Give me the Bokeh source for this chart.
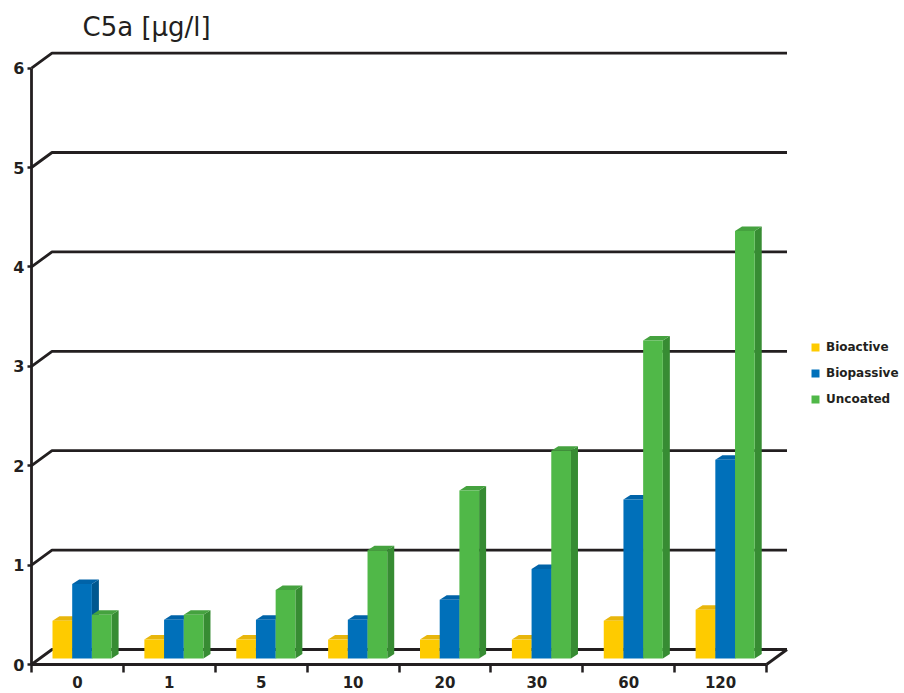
from bokeh.plotting import figure
from bokeh.models import Range1d, FixedTicker, Label, Legend, LegendItem
from bokeh.embed import file_html
from bokeh.resources import INLINE

# C5a concentration over time for three surface types
categories = ["0", "1", "5", "10", "20", "30", "60", "120"]
bioactive = [0.38, 0.19, 0.19, 0.19, 0.19, 0.19, 0.38, 0.49]
biopassive = [0.75, 0.39, 0.39, 0.39, 0.59, 0.90, 1.60, 2.00]
uncoated = [0.44, 0.44, 0.69, 1.09, 1.69, 2.09, 3.20, 4.30]
series_names = ["Bioactive", "Biopassive", "Uncoated"]
y_ticks = [0, 1, 2, 3, 4, 5, 6]

INK = "#231f20"
FONT = "DejaVu Sans"
# front / top / side shades for each series
shades = [
    ("#fecb00", "#e8b60c", "#d9a800"),
    ("#0070ba", "#0063a8", "#00578f"),
    ("#50b848", "#45a23f", "#378c33"),
]

W, H = 904, 693
X0, Y0 = 31, 664   # canvas position of the origin
XS = 91.875        # pixels per category
YS = 99.4          # pixels per unit of value

p = figure(width=W, height=H, output_backend="svg", toolbar_location=None,
           x_range=Range1d(-X0 / XS, (W - X0) / XS),
           y_range=Range1d(-(H - Y0) / YS, Y0 / YS),
           min_border=0)
p.outline_line_color = None
p.grid.visible = False
p.background_fill_color = "white"

# depth offset of the back wall
DX = 20.5 / XS
DY = 15 / YS

# back wall grid lines with the diagonal joins to the front axis
gx, gy = [], []
for v in y_ticks:
    gx.append([0, DX, len(categories) + DX])
    gy.append([v, v + DY, v + DY])
gx.append([len(categories), len(categories) + DX])
gy.append([0, DY])
p.multi_line(gx, gy, line_color=INK, line_width=2.8)

# pseudo-3D bars
OFF = 21 / XS
BW = 19.7 / XS
B0 = 6 / YS
DDX = 7 / XS
DDY = 4.5 / YS

fronts = []
for j, vals in enumerate([bioactive, biopassive, uncoated]):
    front_c, top_c, side_c = shades[j]
    left = [i + OFF + j * BW for i in range(len(categories))]
    right = [l + BW for l in left]
    bottom = [B0] * len(vals)
    top = [B0 + v for v in vals]
    side_x = [[r, r + DDX, r + DDX, r] for r in right]
    side_y = [[b, b + DDY, t + DDY, t] for b, t in zip(bottom, top)]
    top_x = [[l, r, r + DDX, l + DDX] for l, r in zip(left, right)]
    top_y = [[t, t, t + DDY, t + DDY] for t in top]
    p.patches(side_x, side_y, fill_color=side_c, line_color=None)
    p.patches(top_x, top_y, fill_color=top_c, line_color=None)
    r = p.quad(left=left, right=right, bottom=bottom, top=top,
               fill_color=front_c, line_color=None)
    fronts.append(r)

# value axis, pinned to x = 0
ya = p.yaxis[0]
ya.fixed_location = 0
ya.ticker = FixedTicker(ticks=y_ticks, minor_ticks=[])
ya.bounds = (0, 6)
ya.axis_line_color = INK
ya.axis_line_width = 2.8
ya.major_tick_line_color = INK
ya.major_tick_line_width = 2.5
ya.major_tick_out = 4
ya.major_tick_in = 0
ya.minor_tick_line_color = None
ya.major_label_text_font = FONT
ya.major_label_text_font_style = "bold"
ya.major_label_text_font_size = "16px"
ya.major_label_text_color = INK
ya.major_label_standoff = 3

# time axis pinned to y = 0: labels centred in each slot, ticks on slot edges
xa = p.xaxis[0]
xa.fixed_location = 0
centers = [i + 0.5 for i in range(len(categories))]
edges = list(range(len(categories) + 1))
xa.ticker = FixedTicker(ticks=centers, minor_ticks=edges)
xa.major_label_overrides = {c: lab for c, lab in zip(centers, categories)}
xa.bounds = (0, len(categories))
xa.axis_line_color = INK
xa.axis_line_width = 2.8
xa.major_tick_line_color = None
xa.major_tick_out = 0
xa.major_tick_in = 0
xa.minor_tick_line_color = INK
xa.minor_tick_line_width = 2.5
xa.minor_tick_out = 8
xa.minor_tick_in = 0
xa.major_label_text_font = FONT
xa.major_label_text_font_style = "bold"
xa.major_label_text_font_size = "15px"
xa.major_label_text_color = INK
xa.major_label_standoff = 3

legend = Legend(
    items=[LegendItem(label=n, renderers=[r]) for n, r in zip(series_names, fronts)],
    location=(810, 287), orientation="vertical",
    glyph_width=10, glyph_height=10, label_standoff=6, spacing=12, label_height=10,
    padding=0, margin=0, border_line_color=None, background_fill_alpha=0,
    label_text_font=FONT, label_text_font_style="bold",
    label_text_font_size="12px", label_text_color=INK,
)
p.add_layout(legend)

title = Label(x=(82 - X0) / XS, y=(Y0 - 26) / YS, text="C5a [µg/l]",
              text_font=FONT, text_font_size="26px", text_color=INK,
              text_baseline="alphabetic")
p.add_layout(title)

open("out.html", "w").write(file_html(p, INLINE))
